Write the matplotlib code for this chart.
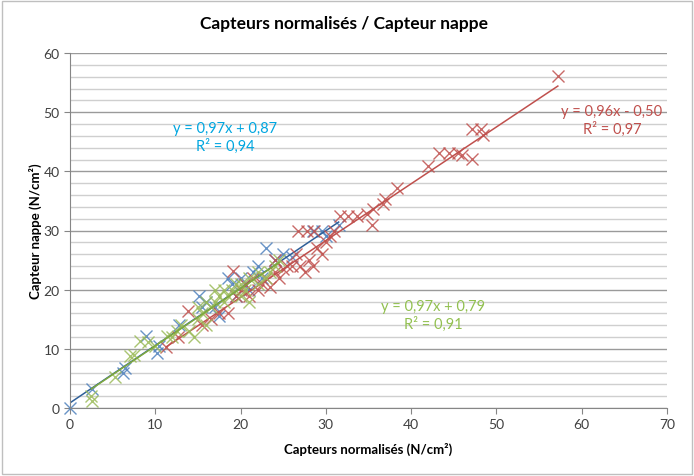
import numpy as np
import matplotlib
matplotlib.use("Agg")
import matplotlib.pyplot as plt
from matplotlib.patches import Rectangle

plt.rcParams['font.family'] = ['Lato', 'DejaVu Sans']

# Capteurs normalisés (x) vs capteur nappe (y), N/cm²
blue_x = [0, 2.6, 6.2, 6.5, 8.9, 10.2, 10.4, 12.8, 15.1, 15.5, 16, 17, 17.5, 18.5,
          19, 19.5, 20, 20.5, 21, 21.5, 22, 22.5, 23, 24, 25, 26, 28.5, 29.5, 30, 31.5]
blue_y = [0, 3.2, 6, 6.8, 12.2, 9.3, 10.5, 14, 19, 17, 18, 17, 15.5, 22,
          21, 19, 22, 21, 20, 23, 24, 22, 27, 25, 26, 25.5, 30, 30, 29, 31]

red_x = [11.3, 12.7, 13.8, 15.5, 16.5, 17.5, 18.5, 19.1, 19.5, 20, 20.5, 21, 21.5,
         22, 22.5, 23, 23.5, 24, 24, 24.5, 25, 25.5, 26, 26.5, 27, 26.7, 27.5, 27.8,
         28, 28.5, 29, 29.5, 28.6, 30, 30.5, 31, 31.7, 32.6, 33.6, 34.8, 35.4, 35.5,
         36.7, 36.9, 38.3, 42, 43.3, 44.4, 45.5, 46, 47.1, 47.1, 48.2, 48.4, 57.2]
red_y = [10.3, 12, 16.4, 14, 15, 16, 16, 23.1, 19, 20, 21, 19, 22,
         20, 21, 22, 20.5, 23, 25, 22, 23.5, 24, 24, 26, 24, 29.9, 23, 29.9,
         25, 24, 27, 26, 29.9, 28, 29, 30, 32.4, 32.4, 32.4, 32.8, 31, 33.6,
         34.5, 35.3, 37.2, 40.9, 43.1, 43.1, 43.1, 42.7, 42.1, 47.1, 47.1, 46.1, 56.1]

green_x = [2.6, 2.5, 5.3, 7, 7.5, 8.2, 9.1, 10, 11.4, 12, 12.5, 13, 14, 14.5, 15, 15,
           15.5, 16, 16, 16.5, 17, 17, 17.5, 18, 18, 18.5, 19, 19.5, 20, 20, 20.5,
           21, 21, 22, 22, 23, 23.5, 24, 24.5]
green_y = [1.2, 2, 5.2, 8.8, 9, 11.3, 11.1, 10.5, 12.2, 12, 13, 14, 13, 12, 15, 17,
           16, 14, 18, 17, 18, 20, 19, 20, 18, 19, 20, 21, 21, 19, 20,
           22, 18, 21, 23, 22, 23, 24, 25]

fits = {
    'blue': (0.97, 0.87, "y = 0,97x + 0,87\nR² = 0,94"),
    'red': (0.96, -0.50, "y = 0,96x - 0,50\nR² = 0,97"),
    'green': (0.97, 0.79, "y = 0,97x + 0,79\nR² = 0,91"),
}

fig = plt.figure(figsize=(6.94, 4.77), dpi=100)
ax = fig.add_axes([70/694, 1 - 409/477, 597/694, 355/477])

series = [
    ('blue', blue_x, blue_y, '#4F81BD', '#2F5F98', '#00A6E0', (225, 138)),
    ('red', red_x, red_y, '#C0504D', '#C0504D', '#C0504D', (612, 121)),
    ('green', green_x, green_y, '#9BBB59', '#7FAA3C', '#92C050', (433, 316)),
]

for name, xs, ys, mcol, lcol, tcol, tpos in series:
    ax.plot(xs, ys, ls='none', marker='x', ms=9, mew=1.0, color=mcol, alpha=0.85,
            clip_on=False)
    a, b, label = fits[name]
    xx = np.array([min(xs), max(xs)])
    ax.plot(xx, a * xx + b, color=lcol, lw=1.1)
    fx, fy = tpos
    ax.text(fx / 694, 1 - fy / 477, label, transform=fig.transFigure, ha='center',
            va='center', color=tcol, fontsize=10.5, linespacing=1.2)

ax.set_xlim(0, 70)
ax.set_ylim(0, 60)
ax.set_xticks(range(0, 71, 10))
ax.set_yticks(range(0, 61, 10))
ax.set_yticks(np.arange(0, 61, 2), minor=True)
ax.grid(axis='y', which='major', color='#9A9A9A', lw=1.0)
ax.grid(axis='y', which='minor', color='#CFCFCF', lw=1.0)
ax.set_axisbelow(True)
ax.tick_params(axis='both', which='major', length=4, color='#868686', labelsize=10,
               labelcolor='#404040')
ax.tick_params(axis='y', which='minor', length=0)
for side in ['top', 'right']:
    ax.spines[side].set_visible(False)
for side in ['left', 'bottom']:
    ax.spines[side].set_color('#868686')

ax.set_xlabel('Capteurs normalisés (N/cm²)', fontsize=9.5, fontweight='bold', labelpad=8)
ax.set_ylabel('Capteur nappe (N/cm²)', fontsize=9.5, fontweight='bold', labelpad=1)
fig.text(344 / 694, 1 - 24 / 477, 'Capteurs normalisés / Capteur nappe', ha='center',
         va='center', fontsize=12.5, fontweight='bold')

fig.patches.append(Rectangle((0.003, 0.004), 0.994, 0.992, transform=fig.transFigure,
                             fill=False, edgecolor='#BFBFBF', lw=1))

fig.savefig('out.png', dpi=100)
